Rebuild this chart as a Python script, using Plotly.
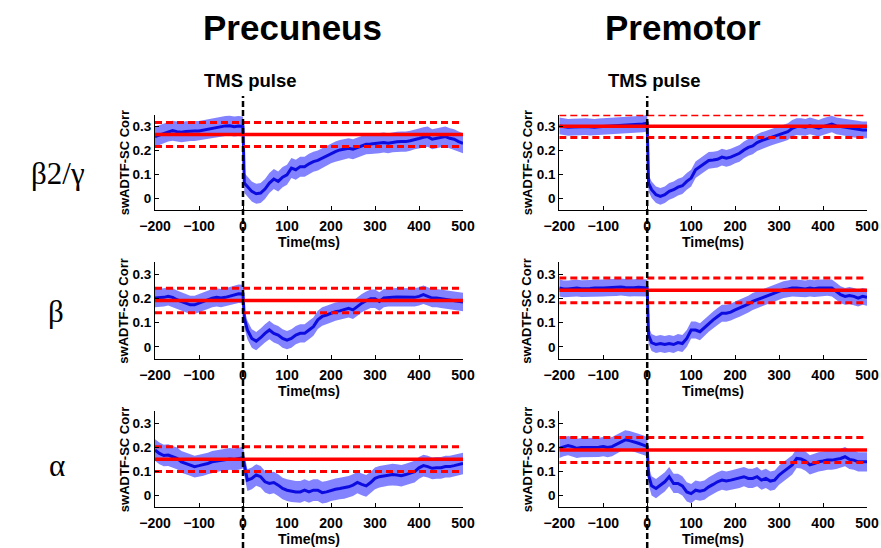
import plotly.graph_objects as go

# ---------------- data ----------------
time_ms = list(range(-200, 1, 10)) + [3] + list(range(10, 501, 10))

precuneus_b2g = [0.258, 0.265, 0.272, 0.279, 0.283, 0.279, 0.276, 0.280, 0.282, 0.282, 0.282,
                 0.286, 0.290, 0.293, 0.297, 0.300, 0.303, 0.304, 0.300, 0.303, 0.300,
                 0.063,
                 0.049, 0.028, 0.018, 0.021, 0.038, 0.063, 0.080, 0.070, 0.088, 0.098,
                 0.126, 0.119, 0.132, 0.132, 0.144, 0.153, 0.158, 0.167, 0.177, 0.188,
                 0.195, 0.202, 0.205, 0.209, 0.205, 0.213, 0.220, 0.226, 0.227, 0.230,
                 0.230, 0.233, 0.230, 0.234, 0.236, 0.237, 0.237, 0.241, 0.247, 0.250,
                 0.255, 0.258, 0.247, 0.251, 0.255, 0.258, 0.251, 0.247, 0.237, 0.230]
premotor_b2g = [0.303, 0.300, 0.297, 0.298, 0.300, 0.299, 0.300, 0.298, 0.297, 0.299, 0.300,
                0.301, 0.303, 0.304, 0.306, 0.306, 0.307, 0.308, 0.310, 0.311, 0.314,
                0.063,
                0.035, 0.014, 0.007, 0.014, 0.028, 0.035, 0.046, 0.052, 0.070, 0.084,
                0.119, 0.132, 0.146, 0.158, 0.160, 0.163, 0.172, 0.167, 0.172, 0.181,
                0.188, 0.202, 0.213, 0.219, 0.233, 0.241, 0.247, 0.255, 0.261, 0.265,
                0.272, 0.279, 0.293, 0.300, 0.300, 0.297, 0.303, 0.297, 0.293, 0.300,
                0.307, 0.311, 0.303, 0.300, 0.297, 0.293, 0.289, 0.286, 0.286, 0.286]
precuneus_beta = [0.202, 0.202, 0.205, 0.209, 0.205, 0.195, 0.188, 0.181, 0.174, 0.174, 0.181,
                  0.188, 0.195, 0.202, 0.205, 0.202, 0.205, 0.209, 0.216, 0.220, 0.219,
                  0.119,
                  0.070, 0.035, 0.024, 0.038, 0.056, 0.070, 0.056, 0.049, 0.035, 0.028,
                  0.035, 0.049, 0.056, 0.056, 0.070, 0.084, 0.112, 0.126, 0.132, 0.139,
                  0.146, 0.149, 0.156, 0.160, 0.153, 0.167, 0.181, 0.191, 0.199, 0.199,
                  0.188, 0.202, 0.205, 0.205, 0.206, 0.205, 0.205, 0.205, 0.205, 0.209,
                  0.216, 0.209, 0.202, 0.202, 0.199, 0.195, 0.195, 0.191, 0.188, 0.186]
premotor_beta = [0.244, 0.240, 0.240, 0.242, 0.244, 0.241, 0.240, 0.242, 0.244, 0.243, 0.244,
                 0.245, 0.247, 0.246, 0.248, 0.246, 0.244, 0.245, 0.247, 0.245, 0.244,
                 0.049,
                 0.018, 0.010, 0.014, 0.010, 0.014, 0.010, 0.018, 0.014, 0.035, 0.070,
                 0.070, 0.063, 0.080, 0.098, 0.112, 0.126, 0.139, 0.139, 0.144, 0.153,
                 0.160, 0.167, 0.177, 0.188, 0.195, 0.200, 0.209, 0.216, 0.223, 0.230,
                 0.237, 0.240, 0.244, 0.244, 0.241, 0.240, 0.244, 0.241, 0.244, 0.244,
                 0.247, 0.244, 0.230, 0.216, 0.209, 0.213, 0.209, 0.202, 0.209, 0.205]
precuneus_alpha = [0.188, 0.174, 0.165, 0.167, 0.160, 0.153, 0.139, 0.132, 0.126, 0.119, 0.123,
                   0.126, 0.132, 0.139, 0.142, 0.146, 0.146, 0.151, 0.149, 0.151, 0.156,
                   0.126,
                   0.063, 0.070, 0.084, 0.077, 0.056, 0.049, 0.053, 0.042, 0.028, 0.021,
                   0.017, 0.014, 0.014, 0.021, 0.014, 0.021, 0.021, 0.011, 0.014, 0.021,
                   0.025, 0.028, 0.031, 0.035, 0.042, 0.053, 0.045, 0.039, 0.053, 0.070,
                   0.077, 0.081, 0.084, 0.086, 0.084, 0.081, 0.086, 0.093, 0.098, 0.114,
                   0.123, 0.119, 0.112, 0.114, 0.114, 0.119, 0.119, 0.123, 0.128, 0.132]
premotor_alpha = [0.195, 0.202, 0.206, 0.202, 0.195, 0.198, 0.198, 0.199, 0.199, 0.199, 0.202,
                  0.198, 0.202, 0.212, 0.223, 0.230, 0.227, 0.223, 0.216, 0.209, 0.202,
                  0.084,
                  0.039, 0.028, 0.042, 0.056, 0.077, 0.049, 0.049, 0.039, 0.014, 0.007,
                  0.021, 0.017, 0.021, 0.035, 0.045, 0.056, 0.063, 0.059, 0.063, 0.067,
                  0.070, 0.077, 0.070, 0.070, 0.077, 0.063, 0.070, 0.059, 0.063, 0.084,
                  0.098, 0.112, 0.126, 0.153, 0.151, 0.142, 0.126, 0.132, 0.139, 0.142,
                  0.146, 0.146, 0.149, 0.153, 0.160, 0.149, 0.146, 0.139, 0.139, 0.139]

series = [precuneus_b2g, premotor_b2g, precuneus_beta, premotor_beta, precuneus_alpha, premotor_alpha]
band_halfwidth = [0.042, 0.035, 0.038, 0.035, 0.045, 0.040]
baseline_mean = [0.267, 0.302, 0.192, 0.234, 0.150, 0.188]
baseline_ci = [0.050, 0.048, 0.051, 0.051, 0.051, 0.052]

column_titles = ["Precuneus", "Premotor"]
row_labels = ["β2/γ", "β", "α"]
x_ticks = [-200, -100, 0, 100, 200, 300, 400, 500]
y_ticks = [0, 0.1, 0.2, 0.3]
y_ticklabels = ["0", "0.1", "0.2", "0.3"]

# ---------------- layout geometry ----------------
W, H = 881, 548
col_dom = [[155 / W, 463 / W], [559.3 / W, 867 / W]]
row_px = [(114.7, 210.0), (262.3, 359.0), (411.0, 507.3)]
row_dom = [[1 - b / H, 1 - t / H] for t, b in row_px]

BLUE = "#0c0ce0"
BAND = "rgba(124,124,255,0.95)"
RED = "#ff0000"
FONT = "Liberation Sans"


def ann(text, px, py, size, family=FONT, bold=True, angle=0):
    f = dict(size=size, family=family)
    if bold:
        f["weight"] = "bold"
    return dict(text=text, xref="paper", yref="paper", x=px / W, y=1 - py / H,
                xanchor="center", yanchor="middle", showarrow=False, textangle=angle, font=f)


fig = go.Figure()
layout = dict(width=W, height=H, margin=dict(l=0, r=0, t=0, b=0, autoexpand=False),
              paper_bgcolor="white", plot_bgcolor="white", showlegend=False,
              font=dict(family=FONT, color="black"))
shapes = []
annotations = []

for i, vals in enumerate(series):
    r, c = divmod(i, 2)
    n = i + 1
    xa = "x" if n == 1 else f"x{n}"
    ya = "y" if n == 1 else f"y{n}"
    xkey = "xaxis" if n == 1 else f"xaxis{n}"
    ykey = "yaxis" if n == 1 else f"yaxis{n}"
    hw = band_halfwidth[i]
    upper = [v + hw for v in vals]
    lower = [v - hw for v in vals]
    fig.add_trace(go.Scatter(x=time_ms + time_ms[::-1], y=upper + lower[::-1], fill="toself",
                             fillcolor=BAND, line=dict(width=0), mode="lines",
                             xaxis=xa, yaxis=ya, hoverinfo="skip"))
    fig.add_trace(go.Scatter(x=time_ms, y=vals, mode="lines", line=dict(color=BLUE, width=3),
                             xaxis=xa, yaxis=ya))
    m, ci = baseline_mean[i], baseline_ci[i]
    fig.add_trace(go.Scatter(x=[-200, 500], y=[m, m], mode="lines",
                             line=dict(color=RED, width=3.5), xaxis=xa, yaxis=ya))
    for lv in (m + ci, m - ci):
        fig.add_trace(go.Scatter(x=[-200, 500], y=[lv, lv], mode="lines",
                                 line=dict(color=RED, width=3, dash="7px,4px"), xaxis=xa, yaxis=ya))
    layout[xkey] = dict(domain=col_dom[c], anchor=ya, range=[-200, 500], tickvals=x_ticks,
                        ticks="inside", ticklen=4, tickcolor="black", showline=True,
                        linecolor="black", linewidth=1, showgrid=False, zeroline=False,
                        mirror=False, tickfont=dict(size=14, weight="bold", family=FONT),
                        ticklabelstandoff=3, automargin=False)
    layout[ykey] = dict(domain=row_dom[r], anchor=xa, range=[-0.05, 0.35], tickvals=y_ticks,
                        ticktext=y_ticklabels, ticks="inside", ticklen=4, tickcolor="black",
                        showline=True, linecolor="black", linewidth=1, showgrid=False,
                        zeroline=False, mirror=False,
                        tickfont=dict(size=13.5, weight="bold", family=FONT), automargin=False)
    xc_px = [309, 713][c]
    annotations.append(ann("Time(ms)", xc_px, row_px[r][1] + 32, 14))
    annotations.append(ann("swADTF-SC Corr", [124, 527][c],
                           (row_px[r][0] + row_px[r][1]) / 2 + 1, 13, angle=-90))

# TMS pulse vertical dashed lines
for xa in ("x", "x2"):
    shapes.append(dict(type="line", xref=xa, yref="paper", x0=0, x1=0, y0=0, y1=1 - 96 / H,
                       line=dict(color="black", width=2.5, dash="6px,3px"), layer="above"))

for txt, px in zip(column_titles, [292, 683]):
    annotations.append(ann(txt, px, 27.5, 35))
for px in [250, 654]:
    annotations.append(ann("TMS pulse", px, 80, 18.5))
for txt, (px, py) in zip(row_labels, [(58, 173), (56, 311), (57, 465)]):
    annotations.append(ann(txt, px, py, 31, family="Liberation Serif", bold=False))

layout["shapes"] = shapes
layout["annotations"] = annotations
fig.update_layout(**layout)
fig.write_html("out.html", config={"displayModeBar": False},
               post_script="document.body.style.margin='0';document.body.style.overflow='hidden';")
